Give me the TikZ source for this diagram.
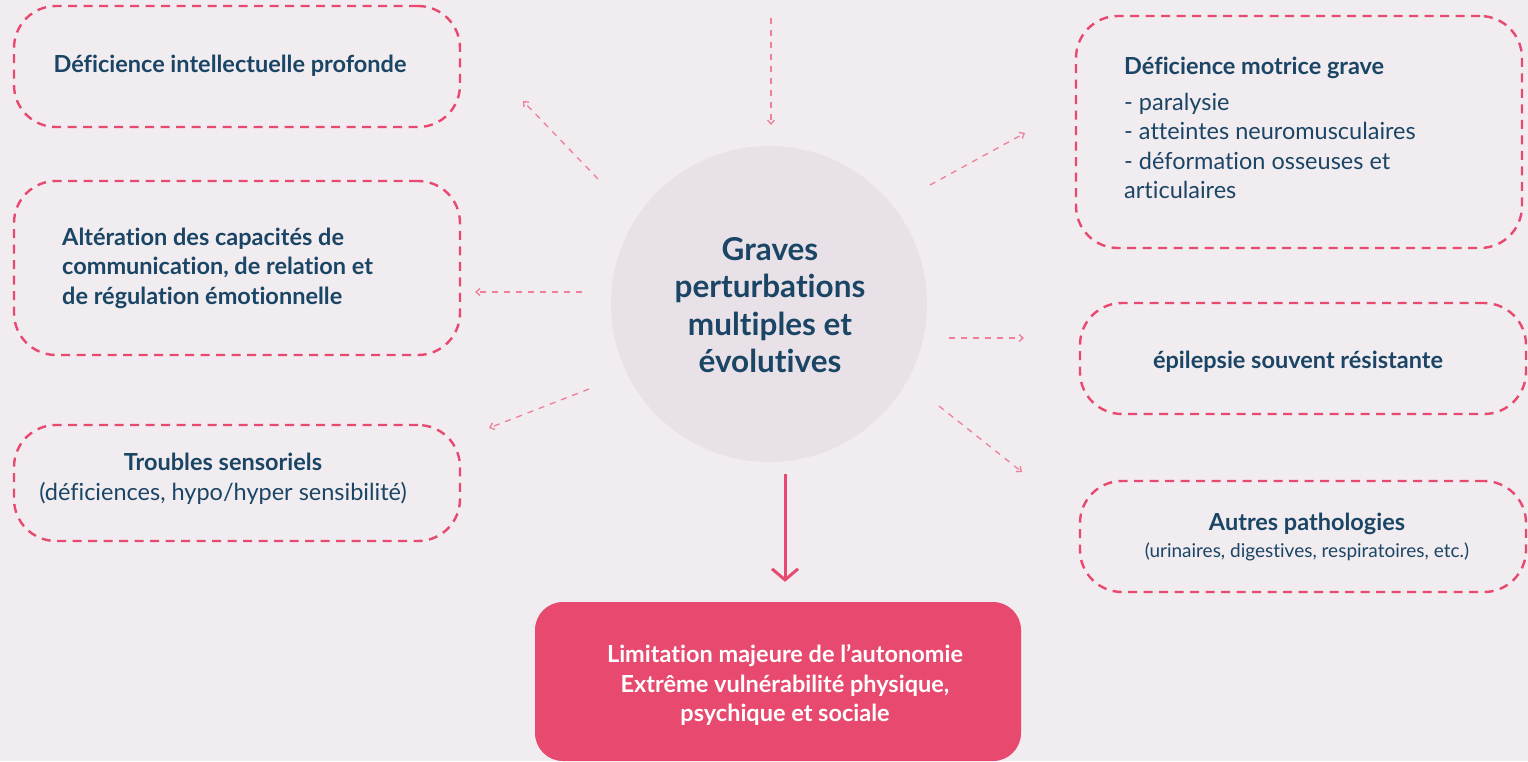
\documentclass[tikz,border=0pt]{standalone}
\usepackage{fontspec}
\setmainfont[Ligatures=NoCommon]{Lato}
\usetikzlibrary{arrows.meta}
\definecolor{bg}{HTML}{F1ECF0}
\definecolor{pinkc}{HTML}{E8496E}
\definecolor{lpink}{HTML}{EE7F98}
\definecolor{navy}{HTML}{1B4565}
\definecolor{circ}{HTML}{E8E2E8}
\tikzset{
  dbox/.style={draw=pinkc, line width=2.4pt, dash pattern=on 9pt off 6.5pt, rounded corners=42pt, fill=none, minimum width=446pt, inner sep=0pt},
  txt/.style={text=navy, inner sep=0pt, font=\fontsize{23.5}{29.5}\selectfont},
  btxt/.style={txt, font=\fontsize{23.5}{29.5}\selectfont\bfseries},
  thinarr/.style={draw=lpink, line width=1.3pt, dash pattern=on 6pt off 6pt, -{Straight Barb[length=4pt,width=7pt]}},
}
\begin{document}
\begin{tikzpicture}[x=1pt,y=-1pt]
\useasboundingbox (0,0) rectangle (1528,761);
\fill[bg] (0,0) rectangle (1528,761);

% boxes
\node[dbox, minimum height=121pt] (b1) at (237,66.5) {};
\node[dbox, minimum height=174pt] (b2) at (237,268) {};
\node[dbox, minimum height=116pt] (b3) at (237,483) {};
\node[dbox, minimum height=232pt] (b4) at (1299,132) {};
\node[dbox, minimum height=111pt] (b5) at (1303,358.5) {};
\node[dbox, minimum height=111pt] (b6) at (1303,536.5) {};

% texts
\node[btxt] (t1) at (230,66) {Déficience intellectuelle profonde};
\node[btxt, anchor=west, align=left] (t2) at (62,268) {Altération des capacités de\\communication, de relation et\\de régulation émotionnelle};
\node[txt, align=center] (t3) at (223,479) {\textbf{Troubles sensoriels}\\(déficiences, hypo/hyper sensibilité)};
\node[txt, anchor=north west, align=left] (t4) at (1124,57) {\textbf{Déficience motrice grave}\\[6pt]- paralysie\\- atteintes neuromusculaires\\- déformation osseuses et\\articulaires};
\node[btxt] (t5) at (1298,362) {épilepsie souvent résistante};
\node[txt, align=center] (t6) at (1307,537) {\textbf{Autres pathologies}\\[-2pt]{\fontsize{19}{24}\selectfont(urinaires, digestives, respiratoires, etc.)}};

% circle
\node[circle, fill=circ, minimum size=316pt, inner sep=0pt] (c) at (769,304) {};
\node[txt, font=\fontsize{31.5}{37.5}\selectfont\bfseries, align=center] (ct) at (770,305) {Graves\\perturbations\\multiples et\\évolutives};

% result box
\node[fill=pinkc, rounded corners=28pt, minimum width=486pt, minimum height=159pt, inner sep=0pt] (r) at (778,681.5) {};
\node[inner sep=0pt, text=white, font=\fontsize{23.5}{29.5}\selectfont\bfseries, align=center] (rt) at (785,685) {Limitation majeure de l’autonomie\\Extrême vulnérabilité physique,\\psychique et sociale};

% arrows
\coordinate (a1s) at (771,18); \coordinate (a1e) at (771,125);
\coordinate (a2s) at (598,179); \coordinate (a2e) at (523,101);
\coordinate (a3s) at (930,185); \coordinate (a3e) at (1025,133);
\coordinate (a4s) at (582,292); \coordinate (a4e) at (475,292);
\coordinate (a5s) at (949,338); \coordinate (a5e) at (1024,338);
\coordinate (a6s) at (589,389); \coordinate (a6e) at (489,428);
\coordinate (a7s) at (939,406); \coordinate (a7e) at (1022,472);
\draw[thinarr] (a1s) -- (a1e);
\draw[thinarr] (a2s) -- (a2e);
\draw[thinarr] (a3s) -- (a3e);
\draw[thinarr] (a4s) -- (a4e);
\draw[thinarr] (a5s) -- (a5e);
\draw[thinarr] (a6s) -- (a6e);
\draw[thinarr] (a7s) -- (a7e);

\coordinate (ms) at (785,474);
\draw[draw=pinkc, line width=3pt, -{Straight Barb[length=11pt,width=26pt,line width=3pt]}] (ms) -- (r.north -| ms) [shorten >=20pt];
\end{tikzpicture}
\end{document}
